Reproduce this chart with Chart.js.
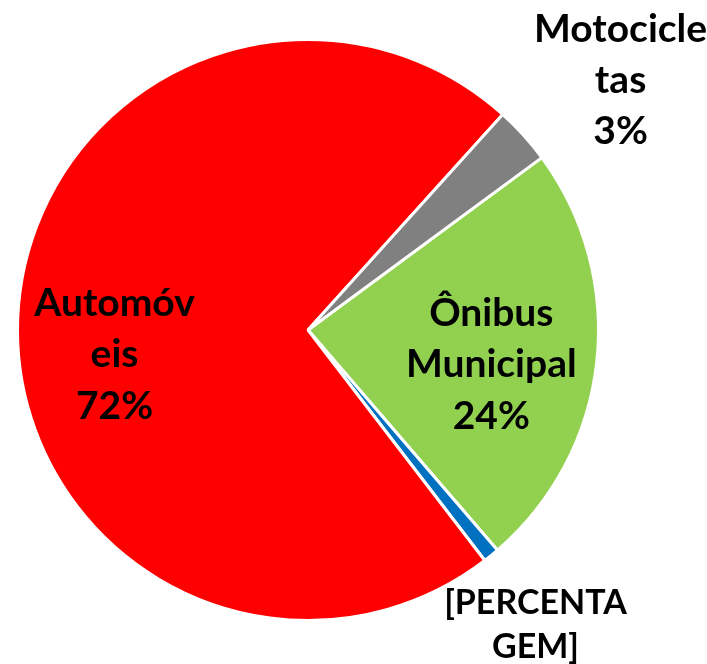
<!DOCTYPE html>
<html>
<head>
<meta charset="utf-8">
<script src="https://cdn.jsdelivr.net/npm/chart.js@4.4.1/dist/chart.umd.min.js"></script>
<style>
  html, body { margin: 0; padding: 0; background: #fff; }
  #wrap { width: 707px; height: 664px; }
</style>
</head>
<body>
<div id="wrap"><canvas id="grafico"></canvas></div>
<script>
// dados
const categorias = ['Ônibus Municipal', '[PERCENTAGEM]', 'Automóveis', 'Motocicletas'];
const valores = [23.8, 0.9, 72.1, 3.2];
const cores = ['#92D050', '#0070C0', '#FF0000', '#808080'];
// texto dos rótulos como aparece (quebrado em linhas)
const linhasRotulo = [
  ['Ônibus', 'Municipal'],
  ['[PERCENTA', 'GEM]'],
  ['Automóv', 'eis'],
  ['Motocicle', 'tas']
];
const mostraPct = [true, false, true, true];

// posição dos rótulos em unidades do raio (x, y da linha base da linha do meio)
const posRotulo = [
  { dx: 0.631, dy: 0.162, passo: 51.5, esc: 1 },
  { dx: 0.783, dy: 0.976, passo: 44, esc: 0.87, primeira: true },
  { dx: -0.666, dy: 0.128, passo: 51.5, esc: 1 },
  { dx: 1.076, dy: -0.817, passo: 51, esc: 1 }
];

const FONTE = '"Lato", "Liberation Sans", sans-serif';
const TAM = 39;

const rotulos = {
  id: 'rotulos',
  afterDatasetsDraw(chart) {
    const ctx = chart.ctx;
    const arco = chart.getDatasetMeta(0).data[0];
    const cx = arco.x, cy = arco.y, r = arco.outerRadius;
    const total = valores.reduce((a, b) => a + b, 0);
    ctx.save();
    ctx.fillStyle = '#000';
    ctx.textAlign = 'center';
    ctx.textBaseline = 'alphabetic';
    valores.forEach((v, i) => {
      const p = posRotulo[i];
      const linhas = linhasRotulo[i].slice();
      if (mostraPct[i]) linhas.push(Math.round(v / total * 100) + '%');
      ctx.font = 'bold ' + Math.round(TAM * p.esc) + 'px ' + FONTE;
      const x = cx + p.dx * r;
      const yBase = cy + p.dy * r;
      // linha de referência: a do meio (3 linhas) ou a primeira
      const ref = p.primeira ? 0 : 1;
      linhas.forEach((t, k) => {
        ctx.fillText(t, x, yBase + (k - ref) * p.passo);
      });
    });
    ctx.restore();
  }
};

new Chart(document.getElementById('grafico'), {
  type: 'pie',
  data: {
    labels: categorias,
    datasets: [{
      data: valores,
      backgroundColor: cores,
      borderColor: '#ffffff',
      borderWidth: 3
    }]
  },
  options: {
    responsive: true,
    maintainAspectRatio: false,
    animation: false,
    rotation: 53.6,
    layout: { padding: { left: 16, top: 38, right: 107, bottom: 42 } },
    plugins: {
      legend: { display: false },
      tooltip: { enabled: false }
    }
  },
  plugins: [rotulos]
});
</script>
</body>
</html>
